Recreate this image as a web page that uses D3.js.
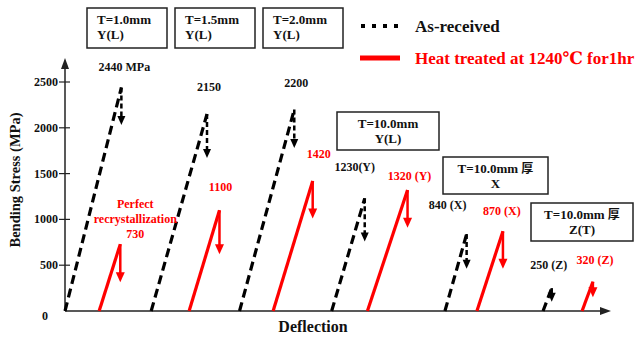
<!DOCTYPE html>
<html>
<head>
<meta charset="utf-8">
<script src="https://cdn.jsdelivr.net/npm/d3@7"></script>
<style>
  body { margin: 0; background: #fff; }
  text { font-family: "Liberation Serif", "Times New Roman", "DejaVu Serif", serif; font-weight: bold; }
  tspan.cjk { font-family: "Noto Sans CJK JP", "Noto Sans CJK SC", sans-serif; font-size: 12px; }
</style>
</head>
<body>
<svg id="chart" width="635" height="337"></svg>
<script>
// specimen groups (thickness / direction)
const groups = ['T=1.0mm Y(L)', 'T=1.5mm Y(L)', 'T=2.0mm Y(L)', 'T=10.0mm Y', 'T=10.0mm X', 'T=10.0mm Z'];

// as-received: deflection where loading starts, deflection at peak, peak stress, stress after fracture drop
const asStart = [0, 15.9, 32.2, 49.2, 70.1, 88.2];
const asPeakDefl = [10.4, 26.2, 42.3, 55.3, 74.1, 89.8];
const asStress = [2440, 2150, 2200, 1230, 840, 250];
const asAfter = [2030, 1670, 1780, 760, 460, 100];
const asLabels = ['2440 MPa', '2150', '2200', '1230(Y)', '840 (X)', '250 (Z)'];

// heat treated at 1240C for 1 hr
const htStart = [6.3, 22.9, 38.4, 55.8, 76.0, 95.4];
const htPeakDefl = [10.2, 28.5, 45.7, 63.2, 80.8, 97.4];
const htStress = [730, 1100, 1420, 1320, 870, 320];
const htAfter = [315, 620, 1010, 910, 460, 150];
const htLabels = ['730', '1100', '1420', '1320 (Y)', '870 (X)', '320 (Z)'];

const yTicks = [0, 500, 1000, 1500, 2000, 2500];

const svg = d3.select('#chart');
const x = d3.scaleLinear().domain([0, 100]).range([65, 607]);
const y = d3.scaleLinear().domain([0, 2500]).range([311, 82]);

// label offsets relative to peaks (pixels)
const asOff = [[3, -16], [2, -23], [2, -22], [-10, -27], [-19, -25], [-3, -19]];
const htOff = [[15, -6], [1, -19], [6, -23], [2, -10], [-1, -16], [2, -18]];

// axes
svg.append('line').attr('x1', x(0)).attr('x2', x(100) - 4).attr('y1', y(0)).attr('y2', y(0))
  .attr('stroke', '#222').attr('stroke-width', 1.5);
svg.append('path').attr('d', `M${x(100) + 4},${y(0)} l-11,-4 l0,8 z`).attr('fill', '#222');
svg.append('line').attr('x1', x(0)).attr('x2', x(0)).attr('y1', y(0)).attr('y2', 64)
  .attr('stroke', '#222').attr('stroke-width', 1.5);
svg.append('path').attr('d', `M${x(0)},58 l-4,11 l8,0 z`).attr('fill', '#222');

const tick = svg.append('g').selectAll('g').data(yTicks).enter().append('g');
tick.filter(d => d > 0).append('line')
  .attr('x1', x(0) - 6).attr('x2', x(0) + 5)
  .attr('y1', d => y(d)).attr('y2', d => y(d))
  .attr('stroke', '#222').attr('stroke-width', 1.2);
tick.append('text')
  .attr('x', d => d === 0 ? 48 : x(0) - 7)
  .attr('y', d => y(d) + (d === 0 ? 9 : 4))
  .attr('text-anchor', 'end').attr('font-size', 12).attr('fill', '#111')
  .text(d => d);

svg.append('text').attr('transform', 'translate(20,180) rotate(-90)')
  .attr('text-anchor', 'middle').attr('font-size', 14.5).attr('fill', '#111')
  .text('Bending Stress (MPa)');
svg.append('text').attr('x', 313).attr('y', 332).attr('text-anchor', 'middle')
  .attr('font-size', 16).attr('fill', '#111').text('Deflection');

function drawSeries(start, peakDefl, stress, after, color, dashed, headW, headH) {
  const g = svg.append('g');
  const items = g.selectAll('g').data(stress).enter().append('g');
  items.append('line')
    .attr('x1', (d, i) => x(start[i])).attr('y1', y(0))
    .attr('x2', (d, i) => x(peakDefl[i])).attr('y2', d => y(d))
    .attr('stroke', color).attr('stroke-width', 3.2)
    .attr('stroke-dasharray', dashed ? '9,5' : null);
  items.append('line')
    .attr('x1', (d, i) => x(peakDefl[i])).attr('y1', d => y(d))
    .attr('x2', (d, i) => x(peakDefl[i])).attr('y2', (d, i) => y(after[i]) - headH + 1)
    .attr('stroke', color).attr('stroke-width', 2.5)
    .attr('stroke-dasharray', dashed ? '5,3' : null);
  items.append('path')
    .attr('d', (d, i) => `M${x(peakDefl[i])},${y(after[i])} l${-headW / 2},${-headH} l${headW},0 z`)
    .attr('fill', color);
}
drawSeries(asStart, asPeakDefl, asStress, asAfter, '#000', true, 8, 9);
drawSeries(htStart, htPeakDefl, htStress, htAfter, '#ff0000', false, 9, 10);

svg.append('g').selectAll('text').data(asLabels).enter().append('text')
  .attr('x', (d, i) => x(asPeakDefl[i]) + asOff[i][0])
  .attr('y', (d, i) => y(asStress[i]) + asOff[i][1])
  .attr('text-anchor', 'middle').attr('font-size', 12).attr('fill', '#111')
  .text(d => d);
svg.append('g').selectAll('text').data(htLabels).enter().append('text')
  .attr('x', (d, i) => x(htPeakDefl[i]) + htOff[i][0])
  .attr('y', (d, i) => y(htStress[i]) + htOff[i][1])
  .attr('text-anchor', 'middle').attr('font-size', 12).attr('fill', '#ff0000')
  .text(d => d);
svg.append('text').attr('x', x(htPeakDefl[0]) + 15).attr('y', y(htStress[0]) - 36)
  .attr('text-anchor', 'middle').attr('font-size', 12).attr('fill', '#ff0000').text('Perfect');
svg.append('text').attr('x', x(htPeakDefl[0]) + 15).attr('y', y(htStress[0]) - 21)
  .attr('text-anchor', 'middle').attr('font-size', 12).attr('fill', '#ff0000').text('recrystallization');

// specimen boxes
const boxes = [
  { x: 87, y: 8, w: 80, h: 40, lines: ['T=1.0mm', 'Y(L)'], anchor: 'start' },
  { x: 175, y: 8, w: 80, h: 40, lines: ['T=1.5mm', 'Y(L)'], anchor: 'start' },
  { x: 263, y: 8, w: 80, h: 40, lines: ['T=2.0mm', 'Y(L)'], anchor: 'start' },
  { x: 337, y: 112, w: 102, h: 38, lines: ['T=10.0mm', 'Y(L)'], anchor: 'middle' },
  { x: 443, y: 157, w: 105, h: 37, lines: ['T=10.0mm |厚', 'X'], anchor: 'middle' },
  { x: 531, y: 203, w: 102, h: 38, lines: ['T=10.0mm |厚', 'Z(T)'], anchor: 'middle' }
];
const bx = svg.append('g').selectAll('g').data(boxes).enter().append('g');
bx.append('rect').attr('x', d => d.x).attr('y', d => d.y).attr('width', d => d.w).attr('height', d => d.h)
  .attr('fill', '#fff').attr('stroke', '#222').attr('stroke-width', 1.5);
bx.each(function (d) {
  const tx = d.anchor === 'start' ? d.x + 10 : d.x + d.w / 2;
  const t = d3.select(this).selectAll('text').data(d.lines).enter().append('text')
    .attr('x', tx).attr('y', (l, i) => d.y + 16 + i * 15)
    .attr('text-anchor', d.anchor).attr('font-size', 13).attr('fill', '#111');
  t.each(function (l) {
    const parts = l.split('|');
    d3.select(this).append('tspan').text(parts[0]);
    if (parts[1]) d3.select(this).append('tspan').attr('class', 'cjk').text(parts[1]);
  });
});

// legend
svg.append('line').attr('x1', 361).attr('x2', 401).attr('y1', 26).attr('y2', 26)
  .attr('stroke', '#000').attr('stroke-width', 4).attr('stroke-dasharray', '4,7');
svg.append('text').attr('x', 415).attr('y', 32).attr('font-size', 17).attr('fill', '#111').text('As-received');
svg.append('line').attr('x1', 360).attr('x2', 400).attr('y1', 58).attr('y2', 58)
  .attr('stroke', '#ff0000').attr('stroke-width', 5);
svg.append('text').attr('x', 415).attr('y', 64).attr('font-size', 17).attr('fill', '#ff0000')
  .text('Heat treated at 1240\u2103 for1hr');
</script>
</body>
</html>
